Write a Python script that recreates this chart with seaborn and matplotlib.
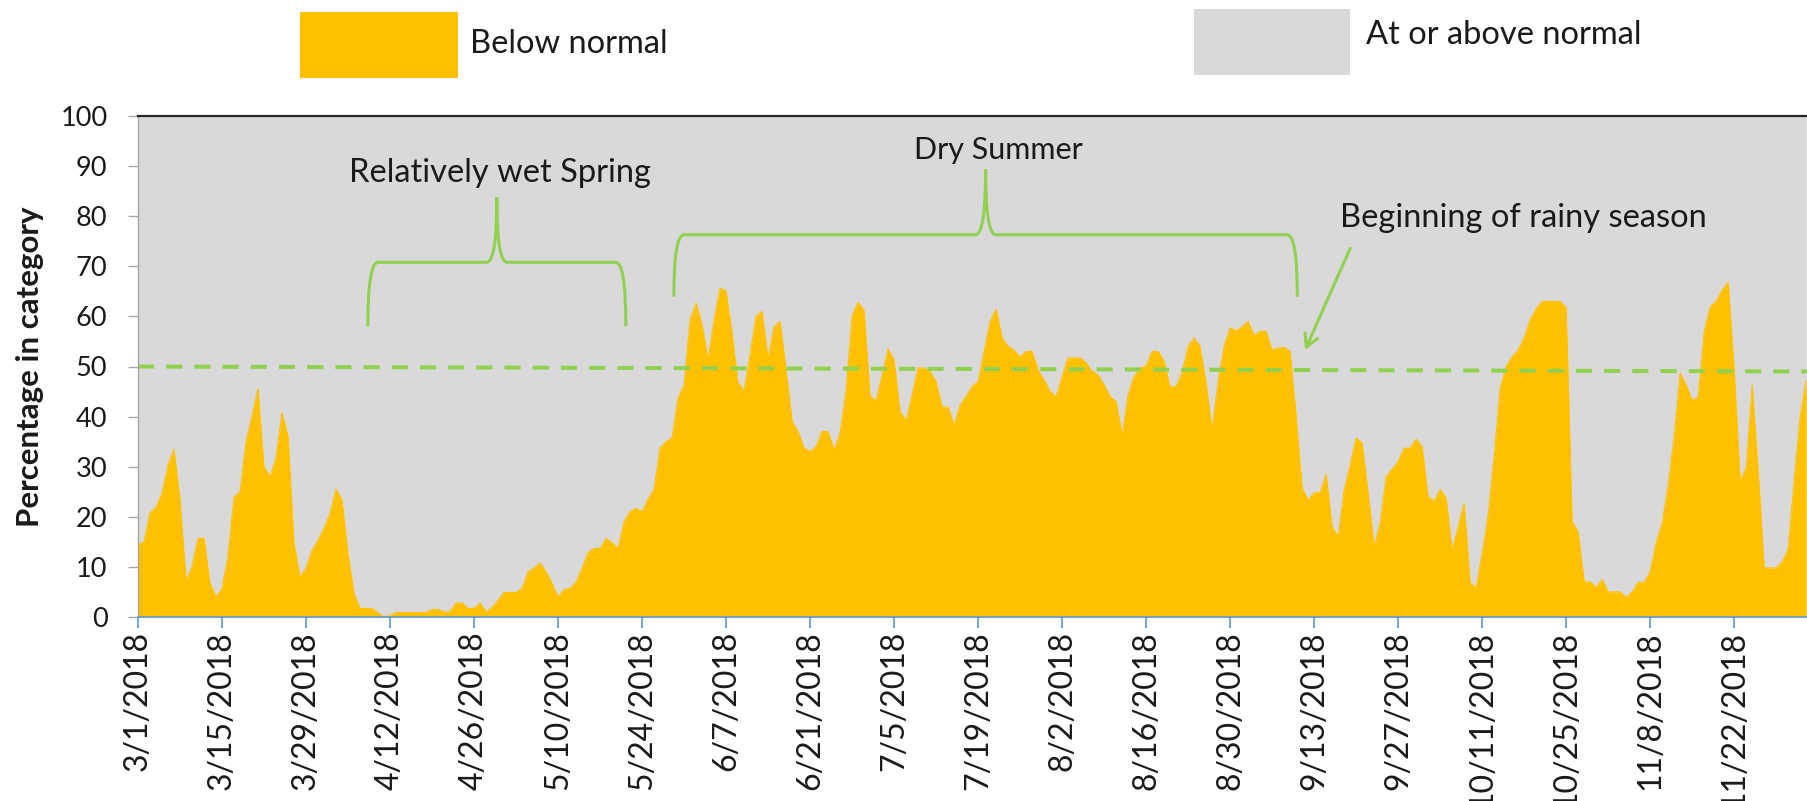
import pandas as pd
import seaborn as sns
import matplotlib.pyplot as plt
import matplotlib.dates as mdates
from matplotlib.path import Path
from matplotlib.patches import PathPatch, Rectangle

# percentage of area in the "below normal" category, one value per day
mar_vals = [14.3, 15, 20.8, 21.9, 24.7, 30.3, 33.5, 23.3, 7.3, 10, 15.7, 15.7, 6.7, 4, 5.7, 12,
            23.9, 25, 35, 40, 45.5, 30, 28, 31.7, 40.7, 36, 14.7, 8, 9.7, 13.3, 15.3]
apr_vals = [17.7, 20.7, 25.5, 23.3, 12.7, 4.7, 1.7, 1.7, 1.7, 0.8, 0, 0.3, 0.9, 0.9, 0.9, 0.9,
            0.9, 0.9, 1.5, 1.5, 1, 1, 2.8, 2.8, 1.7, 1.7, 2.8, 1, 1.9, 3.3]
may_vals = [4.9, 4.9, 4.9, 5.7, 9, 9.7, 10.8, 9, 6.7, 3.9, 5.5, 5.7, 7, 9.7, 12.8, 13.7, 13.7,
            15.7, 14.8, 13.7, 19, 21, 21.7, 21, 23.5, 25.5, 33.7, 35, 35.7, 43.7, 46.3]
jun_vals = [59.2, 62.7, 58.3, 51.3, 59.3, 65.7, 65, 56.7, 46.7, 45.2, 52.3, 60, 61, 51.5, 58, 59,
            49.3, 39, 37, 33.7, 33, 34, 37, 37, 33.3, 36.7, 45.3, 60, 62.8, 61.2]
jul_vals = [44, 43.2, 48.3, 53.5, 51.3, 41, 39.2, 44.3, 49.7, 49.7, 49, 47, 41.9, 41.9, 38.3, 42.3,
            44, 46, 47, 53, 59, 61.5, 55.7, 54, 53.2, 51.9, 53, 53, 49.3, 47.3, 45]
aug_vals = [43.9, 48, 51.7, 51.7, 51.7, 50.7, 49, 48.3, 46.3, 44, 43, 36.3, 44.3, 48, 49.7, 50.1,
            53, 53, 51, 45.9, 46, 48.8, 54, 55.7, 53.9, 46.7, 37.3, 47, 54, 57.7, 57.1]
sep_vals = [57.9, 59, 56.2, 57, 57, 53.3, 53.7, 53.8, 53, 40, 25.7, 23.3, 24.8, 24.8, 28.5, 18, 16,
            25.3, 30.3, 35.7, 34.7, 24.7, 14.1, 18.7, 28, 29.5, 31, 33.7, 33.7, 35.5]
oct_vals = [34, 24, 23.1, 25.5, 23.7, 13.3, 18, 22.7, 6.8, 5.9, 12.7, 20.3, 32, 45.7, 50, 51.9,
            53.3, 55.7, 59.3, 61.5, 63, 63, 63, 63, 61.7, 19, 17, 7, 7, 5.9, 7.5]
nov_vals = [5, 5, 5, 3.9, 5, 6.9, 6.9, 9, 14.8, 18.7, 26.3, 36, 48.7, 46.3, 43.2, 43.9, 57, 61.9,
            63, 65.3, 66.8, 49.3, 27.2, 29.7, 46.3, 29.3, 9.8, 9.8, 9.8, 11]
dec_vals = [13.5, 27.3, 40, 47.3]

start_date = "2018-03-01"
normal_line = [50, 49]          # dashed reference line, left and right end
legend_labels = ["Below normal", "At or above normal"]
notes = ["Relatively wet Spring", "Dry Summer", "Beginning of rainy season"]

ORANGE = "#FFC000"
GREY = "#D9D9D9"
GREEN = "#92D050"

below = mar_vals + apr_vals + may_vals + jun_vals + jul_vals + aug_vals + sep_vals + oct_vals + nov_vals + dec_vals
df = pd.DataFrame({"date": pd.date_range(start_date, periods=len(below), freq="D"),
                   "below": below})

sns.set_style("white")
plt.rcParams["font.family"] = ["Lato", "DejaVu Sans"]

fig = plt.figure(figsize=(18.08, 8.01), dpi=100)
ax = fig.add_axes([138 / 1808, 1 - 617 / 801, 1 - 138 / 1808, 501 / 801])

ax.fill_between(df["date"], df["below"], 100, color=GREY, lw=0)
ax.fill_between(df["date"], df["below"], 0, color=ORANGE, lw=0)
sns.lineplot(data=df, x="date", y="below", color=ORANGE, lw=0.8, ax=ax)

x0 = mdates.date2num(pd.Timestamp(start_date))
x_end = x0 + 278.3
ax.set_xlim(x0, x_end)
ax.set_ylim(0, 100)

ax.plot([x0, x_end], normal_line, color=GREEN, lw=2.9, linestyle=(0, (4, 3)))

# x ticks every two weeks
ticks = pd.date_range(start_date, periods=20, freq="14D")
ax.set_xticks(ticks)
ax.set_xticklabels([f"{t.month}/{t.day}/{t.year}" for t in ticks])
ax.set_yticks(range(0, 101, 10))
ax.tick_params(axis="x", labelrotation=90, labelsize=23, direction="out", length=8,
               width=1.2, color="#5B9BD5", pad=2, bottom=True, labelcolor="#1a1a1a")
ax.tick_params(axis="y", labelsize=19.5, direction="out", length=7, width=1,
               color="#A6A6A6", pad=15, left=True, labelcolor="#1a1a1a")
ax.set_xlabel("")
ax.set_ylabel("Percentage in category", fontsize=22.5, fontweight="bold", labelpad=12, color="#1a1a1a")

for side in ["top", "bottom", "left", "right"]:
    ax.spines[side].set_visible(True)
ax.spines["top"].set_color("#262626")
ax.spines["top"].set_linewidth(1.6)
ax.spines["left"].set_color("#A6A6A6")
ax.spines["left"].set_linewidth(1)
ax.spines["bottom"].set_color("#5B9BD5")
ax.spines["bottom"].set_linewidth(1.2)
ax.spines["right"].set_visible(False)


def brace(left, right, tip, bar, peak, w=1.7):
    xl, xr = x0 + left, x0 + right
    xc = (xl + xr) / 2
    verts = [(xl, tip), (xl, bar), (xl + w, bar), (xc - w, bar), (xc, bar), (xc, peak),
             (xc, bar), (xc + w, bar), (xr - w, bar), (xr, bar), (xr, tip)]
    codes = [Path.MOVETO, Path.CURVE3, Path.CURVE3, Path.LINETO, Path.CURVE3, Path.CURVE3,
             Path.CURVE3, Path.CURVE3, Path.LINETO, Path.CURVE3, Path.CURVE3]
    ax.add_patch(PathPatch(Path(verts, codes), fill=False, edgecolor=GREEN, lw=2.2,
                           capstyle="butt", zorder=5))


brace(38.3, 81.3, 58, 70.8, 83.8)
brace(89.3, 193.2, 63.9, 76.3, 89.4)

ax.text(x0 + 60.3, 86.8, notes[0], fontsize=23.5, ha="center", va="baseline", color="#1a1a1a")
ax.text(x0 + 143.3, 91.4, notes[1], fontsize=22, ha="center", va="baseline", color="#1a1a1a")
ax.text(x0 + 200.3, 77.8, notes[2], fontsize=23.5, ha="left", va="baseline", color="#1a1a1a")
ax.annotate("", xy=(x0 + 194.3, 52.8), xytext=(x0 + 202.2, 74.1),
            arrowprops=dict(arrowstyle="->,head_length=0.9,head_width=0.5", color=GREEN, lw=2.2))

# legend boxes drawn at the top of the figure
fig.add_artist(Rectangle((300 / 1808, 1 - 77.6 / 801), 158 / 1808, 66 / 801,
                         transform=fig.transFigure, facecolor=ORANGE, edgecolor="none"))
fig.add_artist(Rectangle((1194.5 / 1808, 1 - 75.2 / 801), 156 / 1808, 66 / 801,
                         transform=fig.transFigure, facecolor=GREY, edgecolor="none"))
fig.text(470 / 1808, 1 - 53.4 / 801, legend_labels[0], fontsize=23.5, va="baseline", color="#1a1a1a")
fig.text(1366 / 1808, 1 - 44 / 801, legend_labels[1], fontsize=23.5, va="baseline", color="#1a1a1a")

fig.savefig("out.png", dpi=100)
